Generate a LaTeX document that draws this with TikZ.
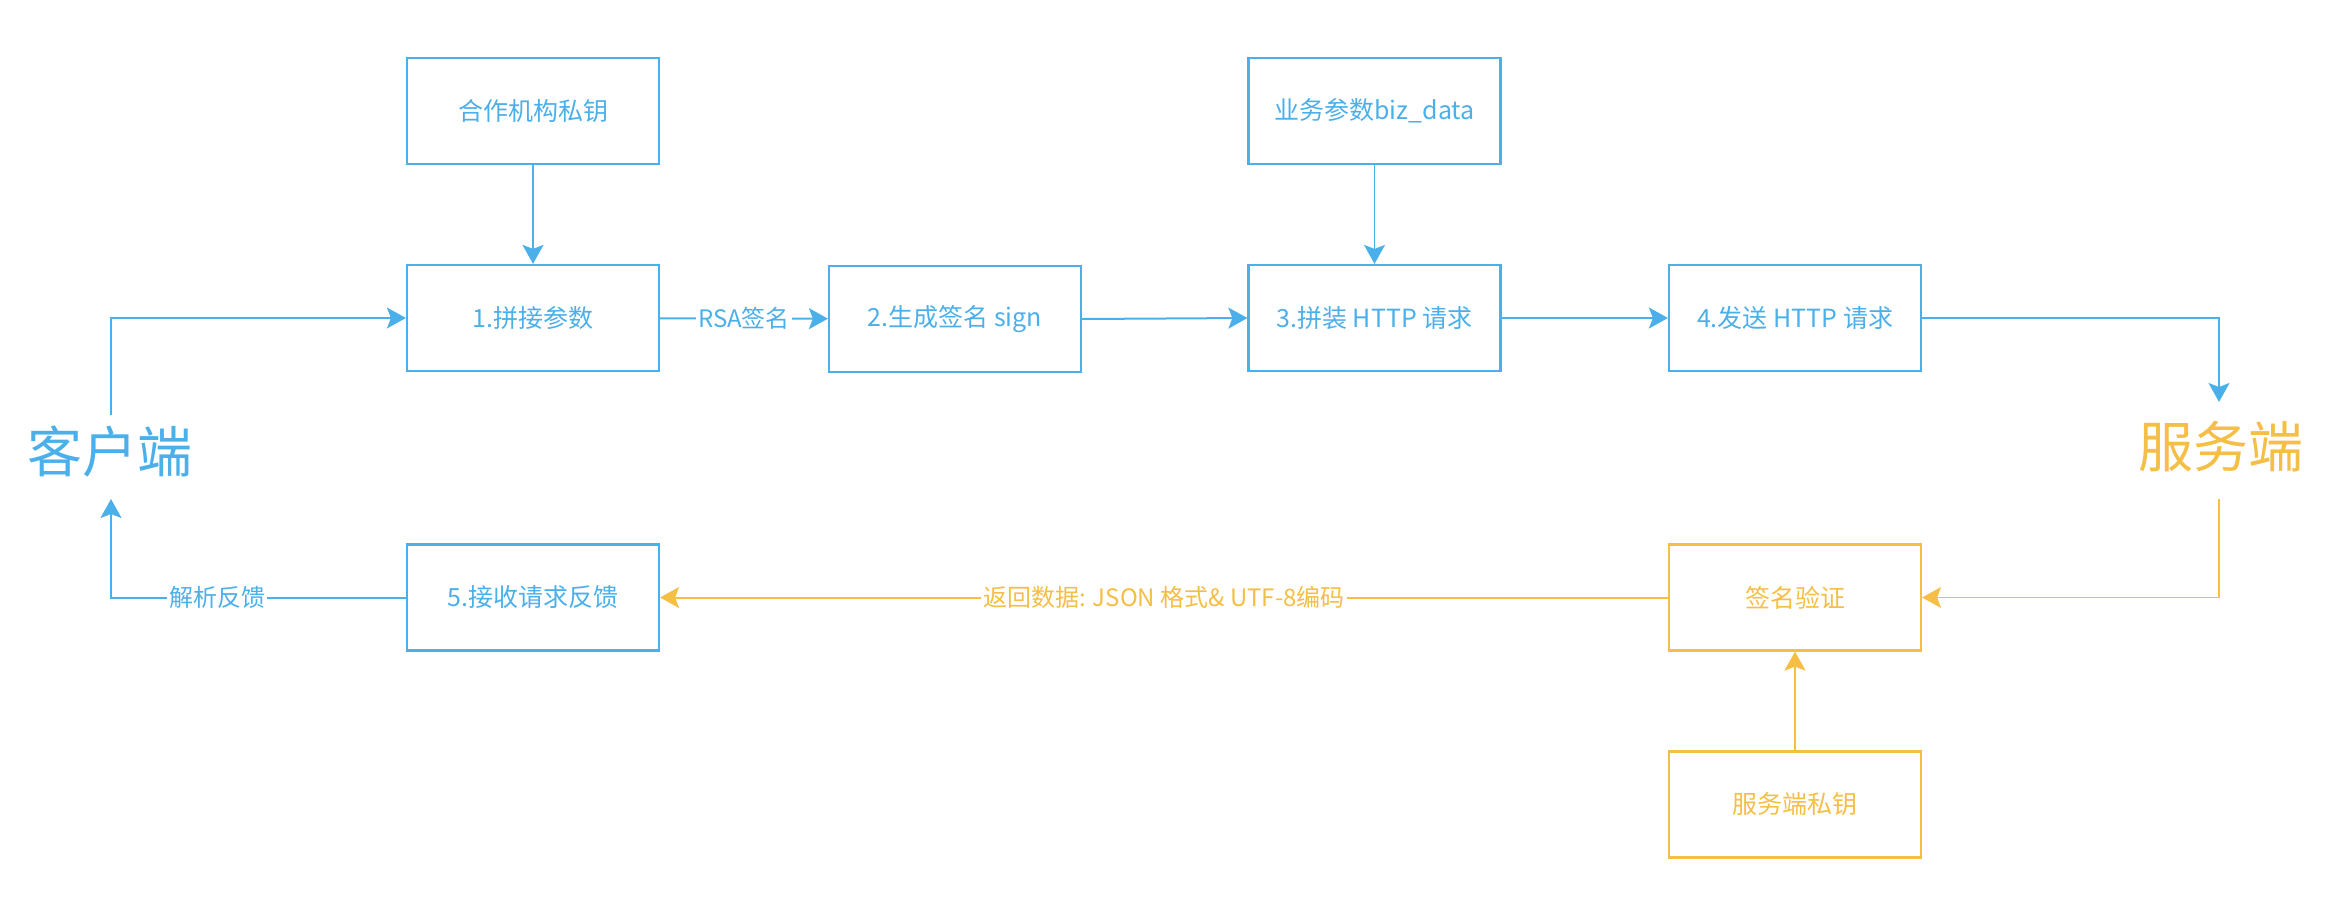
\documentclass[tikz,border=0pt]{standalone}
\usepackage{fontspec}
\setmainfont{Noto Sans CJK SC}
\usetikzlibrary{arrows.meta}
\definecolor{cblue}{HTML}{4BAFEA}
\definecolor{cyel}{HTML}{F5BE45}
\tikzset{
  boxb/.style={draw=cblue, line width=2.2pt, text=cblue, minimum width=252pt, minimum height=106pt, inner sep=0pt, font=\fontsize{25pt}{30pt}\selectfont},
  boxy/.style={boxb, draw=cyel, text=cyel},
  tip/.style={-{Stealth[length=19pt,width=21pt,inset=4pt]}},
  conb/.style={draw=cblue, line width=2pt, tip},
  cony/.style={draw=cyel, line width=2pt, tip},
  lab/.style={fill=white, inner sep=2pt, font=\fontsize{24pt}{28pt}\selectfont},
  big/.style={font=\fontsize{55pt}{60pt}\selectfont, inner sep=0pt}
}
\begin{document}
\begin{tikzpicture}[x=1pt,y=-1pt]
\useasboundingbox (0,0) rectangle (2336,908);
% blue boxes
\node[boxb] (A) at (533,111) {合作机构私钥};
\node[boxb] (B) at (1374.5,111) {业务参数biz\_data};
\node[boxb] (n1) at (533,318) {1.拼接参数};
\node[boxb] (n2) at (955,319) {2.生成签名 sign};
\node[boxb] (n3) at (1374.5,318) {3.拼装 HTTP 请求};
\node[boxb] (n4) at (1795,318) {4.发送 HTTP 请求};
\node[boxb] (n5) at (533,597.5) {5.接收请求反馈};
% yellow boxes
\node[boxy] (sv) at (1795,597.5) {签名验证};
\node[boxy] (sk) at (1795,804.5) {服务端私钥};
% side labels
\node[big, text=cblue] (client) at (110,452) {客户端};
\node[big, text=cyel] (server) at (2221,447) {服务端};
\coordinate (c1) at (111,415);
\coordinate (c2) at (111,499);
\coordinate (s1) at (2219,402);
\coordinate (s2) at (2219,499);
% connectors
\draw[conb] (A) -- (n1);
\draw[conb, line width=1.3pt] (B) -- (n3);
\draw[conb, line width=1.3pt] (c1) -- (c1 |- n1) -- (n1);
\draw[conb] (n1) -- node[lab, text=cblue] (rsa) {RSA签名} (n2);
\draw[conb] (n2.east) -- (n3.west);
\draw[conb] (n3) -- (n4);
\draw[conb] (n4) -- (s1 |- n4) -- (s1);
\draw[cony, line width=1.3pt] (s2) -- (s2 |- sv) -- (sv);
\draw[cony] (sk) -- (sv);
\draw[cony] (sv) -- node[lab, text=cyel] (ret) {返回数据: JSON 格式\& UTF-8编码} (n5);
\draw[conb] (n5) -- node[lab, text=cblue, pos=0.64] (parse) {解析反馈} (c2 |- n5) -- (c2);
\end{tikzpicture}
\end{document}
